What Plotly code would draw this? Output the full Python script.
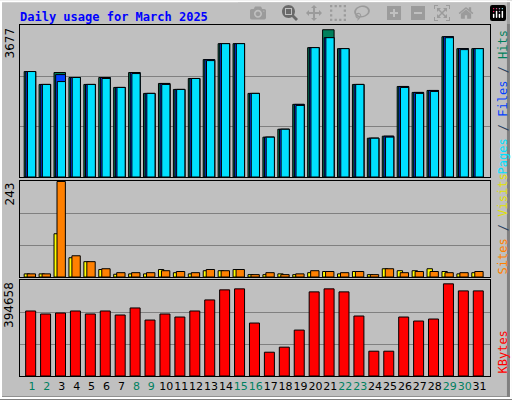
import plotly.graph_objects as go
from plotly.subplots import make_subplots

days = list(range(1, 32))
weekend = [1, 2, 8, 9, 15, 16, 22, 23, 29, 30]

hits = [2564, 2250, 2540, 2419, 2250, 2419, 2177, 2540, 2032, 2274, 2129, 2395, 2855, 3242, 3242, 2032,
        968, 1161, 1766, 3145, 3580, 3121, 2250, 943, 992, 2201, 2056, 2104, 3411, 3121, 3121]
files = [2564, 2250, 2490, 2419, 2250, 2419, 2177, 2540, 2032, 2274, 2129, 2395, 2850, 3242, 3242, 2032,
         968, 1161, 1766, 3145, 3387, 3121, 2250, 943, 992, 2201, 2056, 2104, 3411, 3121, 3121]
pages = [2564, 2250, 2320, 2419, 2250, 2395, 2177, 2515, 2032, 2250, 2129, 2395, 2830, 3242, 3242, 2032,
         968, 1161, 1740, 3145, 3387, 3121, 2250, 943, 970, 2177, 2032, 2080, 3387, 3097, 3121]
visits = [8, 8, 110, 49, 39, 19, 7, 8, 8, 19, 11, 8, 16, 16, 19, 6, 6, 8, 6, 11, 14, 8, 14, 6, 21, 16, 16,
          21, 14, 8, 11]
sites = [8, 8, 243, 54, 39, 21, 11, 11, 11, 16, 14, 11, 19, 16, 19, 6, 11, 6, 8, 16, 14, 11, 14, 6, 21, 11,
         14, 14, 11, 11, 14]
kbytes = [268600, 256200, 260300, 268600, 256200, 268600, 252000, 281100, 231200, 256200, 243700, 268600,
          314300, 355900, 360000, 218800, 98300, 119100, 189700, 347600, 360000, 347600, 247900, 102500,
          102500, 243700, 227100, 235400, 380800, 351700, 351700]
max_hits, max_visits, max_kb = 3677, 243, 394658

fig = make_subplots(rows=3, cols=1)
ln = dict(color="black", width=1)


def bars(y, color, offset, width, row):
    fig.add_trace(go.Bar(x=days, y=y, offset=offset, width=width,
                         marker=dict(color=color, line=ln)), row=row, col=1)


bars(hits, "#00805c", -0.52, 0.77, 1)
bars(files, "#0040ff", -0.41, 0.66, 1)
bars(pages, "#00e0ff", -0.30, 0.55, 1)
bars(visits, "#ffff00", -0.52, 0.36, 2)
bars(sites, "#ff8000", -0.32, 0.56, 2)
bars(kbytes, "#ff0000", -0.42, 0.67, 3)

doms = [[0.5575, 0.9375], [0.3075, 0.5475], [0.06, 0.3]]
maxes = [max_hits, max_visits, max_kb]
ticktext = [f"<span style='color:{'#008060' if d in weekend else 'black'}'>{d}</span>" for d in days]
for i in range(3):
    n = "" if i == 0 else str(i + 1)
    fig.layout["xaxis" + n].update(domain=[20 / 512, 490 / 512], range=[0.2, 31.7],
                                   showline=True, mirror=True, linecolor="black", linewidth=1,
                                   showgrid=False, zeroline=False, tickangle=0,
                                   tickvals=days if i == 2 else [], ticktext=ticktext,
                                   tickfont=dict(family="DejaVu Sans", size=11, color="black"), ticks="")
    fig.layout["yaxis" + n].update(domain=doms[i], range=[0, maxes[i] * 1.005],
                                   showline=True, mirror=True, linecolor="black", linewidth=1,
                                   tickvals=[maxes[i] / 3, maxes[i] * 2 / 3], showticklabels=False,
                                   gridcolor="#808080", gridwidth=1, zeroline=False)

lab = dict(family="DejaVu Sans Mono", size=12)
for i, (m, txt) in enumerate(zip(maxes, [
        "<span style='color:#00e0ff'>Pages</span> / <span style='color:#0040ff'>Files</span> / <span style='color:#00805c'>Hits</span>",
        "<span style='color:#ff8000'>Sites</span> / <span style='color:#e0e000'>Visits</span>",
        "<span style='color:#ff0000'>KBytes</span>"])):
    fig.add_annotation(text=str(m), textangle=-90, xref="paper", yref="paper", x=18 / 512, y=doms[i][1],
                       xanchor="right", yanchor="top", showarrow=False,
                       font=dict(family="DejaVu Sans", size=12, color="black"))
    fig.add_annotation(text=txt, textangle=-90, xref="paper", yref="paper", x=493 / 512, y=doms[i][0],
                       xanchor="left", yanchor="bottom", showarrow=False, font=lab)

fig.add_annotation(text="<b>Daily usage for March 2025</b>", xref="paper", yref="paper", x=18 / 512,
                   y=1 - 8 / 400, xanchor="left", yanchor="top", showarrow=False,
                   font=dict(family="DejaVu Sans Mono", size=12, color="#0000ff"))

fig.add_shape(type="line", xref="paper", yref="paper", x0=0, y0=0.003, x1=1, y1=0.003,
              line=dict(color="#808080", width=5))
fig.add_shape(type="line", xref="paper", yref="paper", x0=0.995, y0=0, x1=0.995, y1=1,
              line=dict(color="#808080", width=5))
fig.add_shape(type="rect", xref="paper", yref="paper", x0=0.002, y0=0.005, x1=0.998, y1=0.997,
              line=dict(color="white", width=2))

fig.update_layout(width=512, height=400, margin=dict(l=0, r=0, t=0, b=0), barmode="overlay",
                  paper_bgcolor="#c0c0c0", plot_bgcolor="#c0c0c0", showlegend=False)
fig.write_html("out.html", post_script="document.body.style.margin='0';")
